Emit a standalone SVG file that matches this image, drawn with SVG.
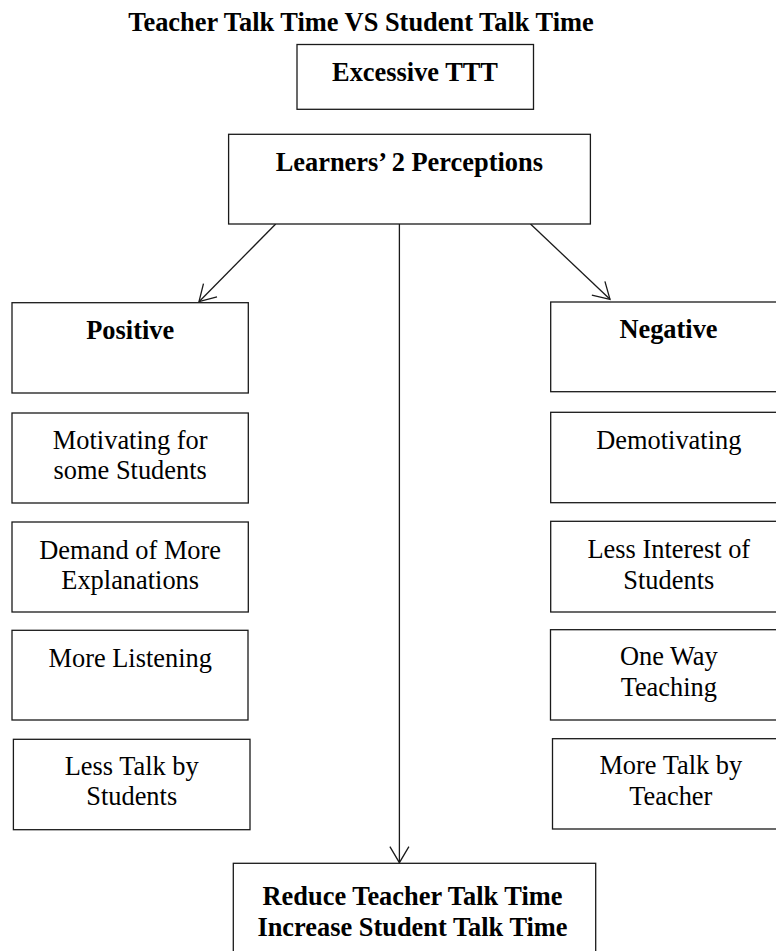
<svg xmlns="http://www.w3.org/2000/svg" width="776" height="951" viewBox="0 0 776 951">
<style>
  .box { fill: #ffffff; stroke: #1a1a1a; stroke-width: 1.3; }
  .t { font-family: "Liberation Serif", "Times New Roman", serif; font-size: 26.4px; fill: #000; text-anchor: middle; }
  .b { font-weight: bold; }
  .conn { stroke: #1a1a1a; stroke-width: 1.3; fill: none; }
</style>
<defs>
  <marker id="arr" markerUnits="userSpaceOnUse" markerWidth="24" markerHeight="24" viewBox="-20 -12 24 24" refX="0" refY="0" orient="auto" overflow="visible">
    <path d="M-16,-9.5 L0,0 L-16,9.5" fill="none" stroke="#1a1a1a" stroke-width="1.3"/>
  </marker>
</defs>
<rect width="776" height="951" fill="#ffffff"/>

<text id="title" class="t b" x="361" y="30.7">Teacher Talk Time VS Student Talk Time</text>

<g id="connectors">
  <line class="conn" x1="275.7" y1="224" x2="199" y2="301.7" marker-end="url(#arr)"/>
  <line class="conn" x1="530.5" y1="224" x2="610" y2="299.3" marker-end="url(#arr)"/>
  <line class="conn" x1="399.4" y1="224" x2="399.4" y2="862.7" marker-end="url(#arr)"/>
</g>

<g id="excessive">
  <rect class="box" x="297" y="44.5" width="236.5" height="64.8"/>
  <text class="t b" x="415" y="80.5">Excessive TTT</text>
</g>

<g id="learners">
  <rect class="box" x="228.6" y="134.3" width="361.8" height="89.7"/>
  <text class="t b" x="409.3" y="171">Learners’ 2 Perceptions</text>
</g>

<g id="positive">
  <rect class="box" x="12" y="302.7" width="236.3" height="90.3"/>
  <text class="t b" x="130.2" y="339.3">Positive</text>
</g>
<g id="motivating">
  <rect class="box" x="12" y="413" width="236.3" height="90"/>
  <text class="t" x="130.2" y="449">Motivating for</text>
  <text class="t" x="130.2" y="479">some Students</text>
</g>
<g id="demand">
  <rect class="box" x="12" y="522" width="236.3" height="90"/>
  <text class="t" x="130.2" y="558.5">Demand of More</text>
  <text class="t" x="130.2" y="588.5">Explanations</text>
</g>
<g id="listening">
  <rect class="box" x="12" y="630.3" width="236" height="89.7"/>
  <text class="t" x="130.2" y="666.5">More Listening</text>
</g>
<g id="lesstalk">
  <rect class="box" x="13.4" y="739.3" width="236.6" height="90.4"/>
  <text class="t" x="131.7" y="775">Less Talk by</text>
  <text class="t" x="131.7" y="805">Students</text>
</g>

<g id="negative">
  <rect class="box" x="550.7" y="302" width="236.3" height="89.7"/>
  <text class="t b" x="668.5" y="338.3">Negative</text>
</g>
<g id="demotivating">
  <rect class="box" x="550.7" y="412.3" width="236.3" height="90.4"/>
  <text class="t" x="668.8" y="449">Demotivating</text>
</g>
<g id="lessinterest">
  <rect class="box" x="550.7" y="521.3" width="236.3" height="90.7"/>
  <text class="t" x="668.8" y="557.5">Less Interest of</text>
  <text class="t" x="668.8" y="588.5">Students</text>
</g>
<g id="oneway">
  <rect class="box" x="550.5" y="629.7" width="236.5" height="90.3"/>
  <text class="t" x="668.8" y="665">One Way</text>
  <text class="t" x="668.8" y="696">Teaching</text>
</g>
<g id="moretalk">
  <rect class="box" x="552.5" y="738.7" width="236.5" height="90.3"/>
  <text class="t" x="670.8" y="774.3">More Talk by</text>
  <text class="t" x="670.8" y="805">Teacher</text>
</g>

<g id="reduce">
  <rect class="box" x="233.3" y="863.3" width="362.4" height="95"/>
  <text class="t b" x="412.5" y="904.5">Reduce Teacher Talk Time</text>
  <text class="t b" x="412.5" y="935.5">Increase Student Talk Time</text>
</g>
</svg>
